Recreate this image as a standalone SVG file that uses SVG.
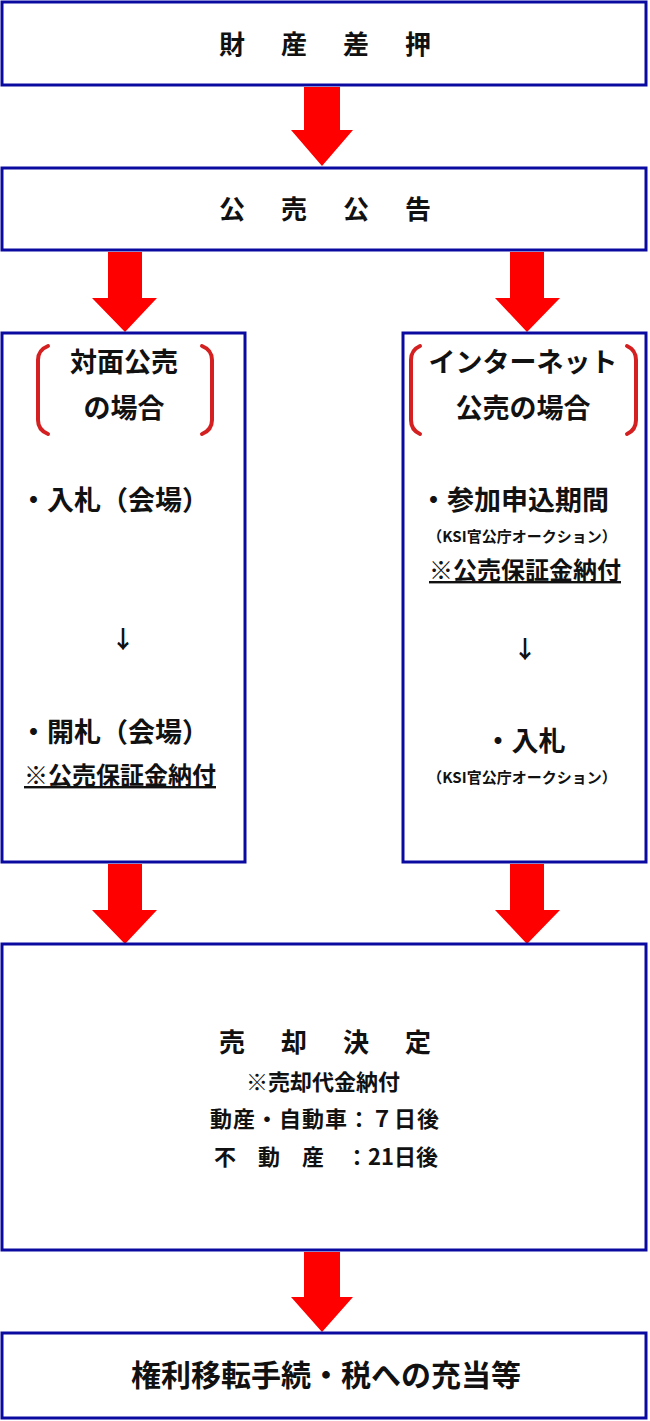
<svg xmlns="http://www.w3.org/2000/svg" width="650" height="1421" viewBox="0 0 650 1421">
<style>
.b{fill:#fff;stroke:#0a0aa0;stroke-width:3}
text{font-family:"Noto Sans CJK JP","Noto Sans",sans-serif;font-weight:bold;fill:#111}
.t{font-size:26px;text-anchor:middle;letter-spacing:36px}
.m{font-size:27px}
.c{text-anchor:middle}
.s{font-size:15px}
.ar{fill:#f00}
.br{fill:none;stroke:#d42020;stroke-width:4;stroke-linecap:round}
</style>
<rect width="650" height="1421" fill="#fff"/>
<g id="connectors">
<polygon class="ar" points="304,87 340,87 340,130 353,130 322,166 291,130 304,130"/>
<polygon class="ar" points="108,252 142,252 142,298 157,298 125,332 92,298 108,298"/>
<polygon class="ar" points="510,252 544,252 544,298 560,298 527,332 495,298 510,298"/>
<polygon class="ar" points="108,864 142,864 142,910 157,910 125,944 92,910 108,910"/>
<polygon class="ar" points="510,864 544,864 544,910 560,910 527,944 495,910 510,910"/>
<polygon class="ar" points="304,1252 340,1252 340,1297 353,1297 322,1332 291,1297 304,1297"/>
</g>
<g id="n1"><rect class="b" x="2" y="2" width="644" height="83"/><text class="t" x="343" y="54">財産差押</text></g>
<g id="n2"><rect class="b" x="2" y="168" width="644" height="82"/><text class="t" x="343" y="219">公売公告</text></g>
<g id="n3"><rect class="b" x="2" y="333" width="243" height="529"/>
<path class="br" d="M48,346 Q38,350 38,360 L38,420 Q38,430 48,434"/>
<path class="br" d="M202,346 Q212,350 212,360 L212,420 Q212,430 202,434"/>
<text class="m c" x="124" y="372" font-size="29">対面公売</text>
<text class="m c" x="124" y="418" font-size="29">の場合</text>
<text class="m" x="20" y="510">・入札（会場）</text>
<text class="c" x="123" y="648" font-size="24" font-weight="normal">↓</text>
<text class="m" x="20" y="742">・開札（会場）</text>
<text x="24" y="784" font-size="24" text-decoration="underline">※公売保証金納付</text>
</g>
<g id="n4"><rect class="b" x="403" y="333" width="243" height="529"/>
<path class="br" d="M420,346 Q411,350 411,360 L411,420 Q411,430 420,434"/>
<path class="br" d="M627,346 Q636,350 636,360 L636,420 Q636,430 627,434"/>
<text class="m c" x="523" y="372" font-size="29">インターネット</text>
<text class="m c" x="523" y="418" font-size="29">公売の場合</text>
<text class="m" x="420" y="510">・参加申込期間</text>
<text class="s c" x="522" y="542">（KSI官公庁オークション）</text>
<text class="c" x="525" y="579" font-size="24" text-decoration="underline">※公売保証金納付</text>
<text class="c" x="525" y="658" font-size="24" font-weight="normal">↓</text>
<text class="m c" x="525" y="751">・入札</text>
<text class="s c" x="522" y="783">（KSI官公庁オークション）</text>
</g>
<g id="n5"><rect class="b" x="2" y="944" width="644" height="306"/>
<text class="t" x="343" y="1052">売却決定</text>
<text class="c" x="323" y="1090" font-size="22">※売却代金納付</text>
<text class="c" x="325" y="1127" font-size="22" letter-spacing="1">動産・自動車：７日後</text>
<text x="214" y="1165" font-size="22" xml:space="preserve">不　動　産　：21日後</text>
</g>
<g id="n6"><rect class="b" x="2" y="1333" width="644" height="85"/><text class="c" x="326" y="1386" font-size="30">権利移転手続・税への充当等</text></g>
</svg>
